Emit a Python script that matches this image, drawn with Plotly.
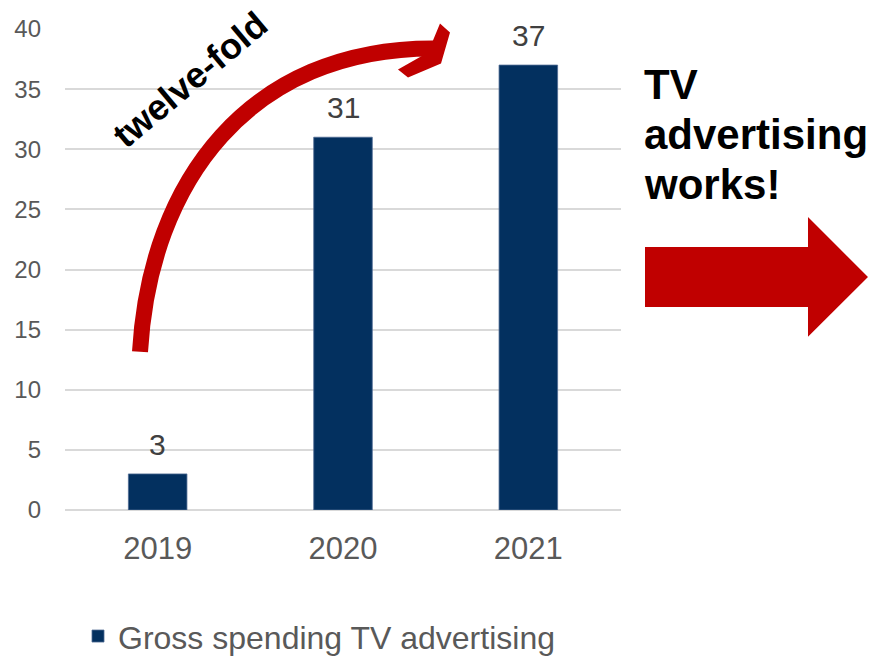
import plotly.graph_objects as go

# Chart data
years = ["2019", "2020", "2021"]
spending = [3, 31, 37]
series_name = "Gross spending TV advertising"
y_ticks = [0, 5, 10, 15, 20, 25, 30, 35, 40]

W, H = 872, 656
# plot-area edges in pixels
L, R, T, B = 65, 621, 28.5, 510.5
FONT = "Liberation Sans, Arial, sans-serif"
RED = "#C00000"
NAVY = "#03305F"


def px(x):
    """pixel x -> paper x"""
    return (x - L) / (R - L)


def py(y):
    """pixel y -> paper y"""
    return (B - y) / (B - T)


def pt(x, y):
    return f"{px(x):.5f},{py(y):.5f}"


pos = list(range(len(years)))

fig = go.Figure()
fig.add_trace(go.Bar(
    x=pos, y=spending, name=series_name, width=0.316,
    marker=dict(color=NAVY, line=dict(color="#4F6B93", width=0.8)),
    showlegend=True,
))

annotations = []
# value labels above the bars
for i, v in zip(pos, spending):
    annotations.append(dict(
        x=i, y=v, xref="x", yref="y", text=str(v), showarrow=False,
        yanchor="bottom", yshift=11,
        font=dict(family=FONT, size=30, color="#404040"),
    ))

# rotated "twelve-fold" caption
annotations.append(dict(
    x=px(190), y=py(79), xref="paper", yref="paper", text="<b>twelve-fold</b>",
    showarrow=False, textangle=-40, xanchor="center", yanchor="middle",
    font=dict(family=FONT, size=36, color="black"),
))

# side message, one line per annotation
for line, yc in zip(["TV", "advertising", "works!"], [84, 134, 184]):
    annotations.append(dict(
        x=px(642), y=py(yc), xref="paper", yref="paper", text=f"<b>{line}</b>",
        showarrow=False, xanchor="left", yanchor="middle",
        font=dict(family=FONT, size=42, color="black"),
    ))

shapes = []
# curved growth arrow: shaft
shapes.append(dict(
    type="path", xref="paper", yref="paper",
    path=f"M{pt(140, 352)} C{pt(150, 180)} {pt(250, 48)} {pt(433, 48)}",
    line=dict(color=RED, width=16), fillcolor="rgba(0,0,0,0)",
))
# curved growth arrow: chevron head
head = [(440, 23), (450, 32), (441, 63), (408, 77), (398, 69), (428, 52)]
shapes.append(dict(
    type="path", xref="paper", yref="paper",
    path="M" + " L".join(pt(x, y) for x, y in head) + " Z",
    fillcolor=RED, line=dict(width=0),
))
# block arrow on the right
block = [(645, 247), (808, 247), (808, 217), (868, 277), (808, 337), (808, 307), (645, 307)]
shapes.append(dict(
    type="path", xref="paper", yref="paper",
    path="M" + " L".join(pt(x, y) for x, y in block) + " Z",
    fillcolor=RED, line=dict(width=0),
))

fig.update_layout(
    width=W, height=H,
    margin=dict(l=L, r=W - R, t=T, b=H - B, pad=0, autoexpand=False),
    paper_bgcolor="white", plot_bgcolor="white",
    font=dict(family=FONT, color="#595959"),
    xaxis=dict(
        range=[-0.5, 2.5], tickvals=pos, ticktext=years,
        showgrid=False, showline=False, zeroline=False, automargin=False,
        ticks="", ticklabelstandoff=17,
        tickfont=dict(family=FONT, size=31, color="#595959"),
    ),
    yaxis=dict(
        range=[0, 40], tickvals=y_ticks, showgrid=True, gridcolor="#D9D9D9",
        gridwidth=1.5, zeroline=True, zerolinecolor="#D9D9D9", zerolinewidth=1.5,
        showline=False, ticks="", ticklabelstandoff=23, automargin=False,
        tickfont=dict(family=FONT, size=24, color="#595959"),
    ),
    legend=dict(
        orientation="h", x=px(78), y=py(637), xanchor="left", yanchor="middle",
        font=dict(family=FONT, size=32, color="#595959"),
        bgcolor="rgba(0,0,0,0)",
    ),
    annotations=annotations,
    shapes=shapes,
)

fig.write_html("out.html")
